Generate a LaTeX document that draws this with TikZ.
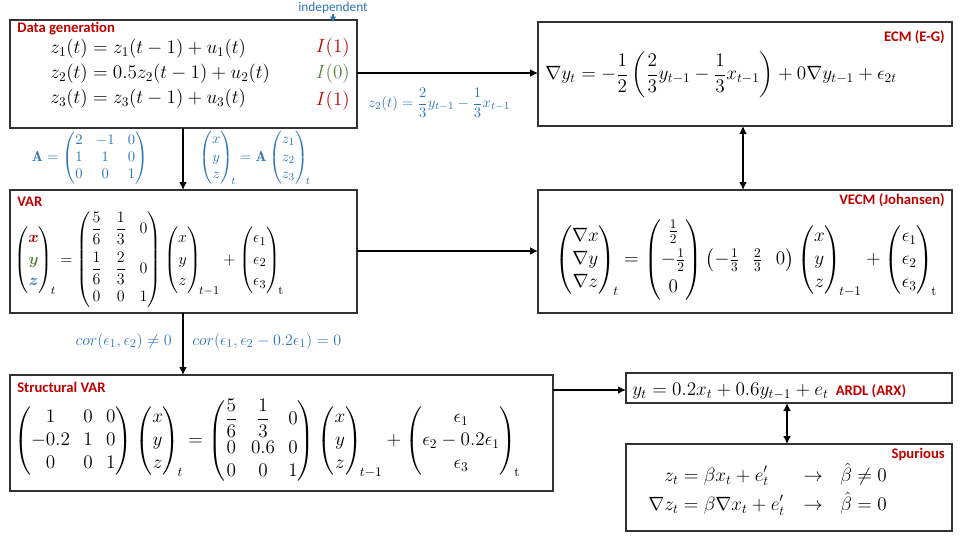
\documentclass[tikz,border=0pt]{standalone}
\usepackage{amsmath}
\usepackage{fontspec}
\newfontfamily\lab{Carlito}
\usetikzlibrary{arrows.meta}
\definecolor{rd}{HTML}{C00000}
\definecolor{bl}{HTML}{2E75B6}
\definecolor{gr}{HTML}{548235}
\begin{document}
\begin{tikzpicture}[x=0.75pt,y=-0.75pt,
  box/.style={draw=black!80,line width=0.8pt,inner sep=0},
  ttl/.style={font=\lab\bfseries\fontsize{11}{13}\selectfont,text=rd,inner sep=0},
  eq/.style={font=\fontsize{14}{17}\selectfont,inner sep=0},
  beq/.style={font=\fontsize{11}{13}\selectfont,text=bl,inner sep=0},
  arr/.style={line width=1.8pt,-{Latex[length=6pt,width=6pt]}},
  darr/.style={line width=1.8pt,{Latex[length=6pt,width=6pt]}-{Latex[length=6pt,width=6pt]}}]
\useasboundingbox (0,0) rectangle (960,540);
% boxes
\draw[box] (10,20) rectangle (357,128); \coordinate (dgR) at (357,73); \coordinate (dgB) at (183,128);
\draw[box] (538,22) rectangle (952,126); \coordinate (ecmL) at (538,73); \coordinate (ecmB) at (743,126);
\draw[box] (10,190) rectangle (357,313); \coordinate (varT) at (183,190); \coordinate (varR) at (357,251); \coordinate (varB) at (183,313);
\draw[box] (538,190) rectangle (952,313); \coordinate (vecmL) at (538,251); \coordinate (vecmT) at (743,190);
\draw[box] (10,375) rectangle (553,491); \coordinate (svT) at (183,375); \coordinate (svR) at (553,390);
\draw[box] (626,373) rectangle (952,403); \coordinate (arL) at (626,390); \coordinate (arB) at (787,403);
\draw[box] (626,444) rectangle (952,531); \coordinate (spT) at (787,444);
% titles
\node[ttl,anchor=west] (t1) at (17,29) {Data generation};
\node[ttl,anchor=east] (t2) at (945,37) {ECM (E-G)};
\node[ttl,anchor=west] (t3) at (17,202) {VAR};
\node[ttl,anchor=east] (t4) at (945,200) {VECM (Johansen)};
\node[ttl,anchor=west] (t5) at (17,387) {Structural VAR};
\node[ttl,anchor=east] (t6) at (945,454) {Spurious};
\node[font=\lab\fontsize{10}{12}\selectfont,text=bl,inner sep=0] (ind) at (333,8) {independent};
\coordinate (indS) at (333,14);
\coordinate (indE) at (333,22);
\draw[bl,line width=1.5pt,-{Latex[length=4pt,width=5pt]}] (indS) -- (indE);
% data generation
\node[eq,anchor=west] (dg) at (50,74) {$\begin{aligned}
z_1(t)&=z_1(t-1)+u_1(t)\\[-1pt]
z_2(t)&=0.5z_2(t-1)+u_2(t)\\[-1pt]
z_3(t)&=z_3(t-1)+u_3(t)\end{aligned}$};
\node[eq,anchor=east] (i1) at (350,48) {$\color{rd}I(1)$};
\node[eq,anchor=east] (i2) at (350,74) {$\color{gr}I(0)$};
\node[eq,anchor=east] (i3) at (350,101) {$\color{rd}I(1)$};
% ECM
\node[eq,anchor=west] (ecm) at (545,75) {$\nabla y_t=-\dfrac12\left(\dfrac23 y_{t-1}-\dfrac13 x_{t-1}\right)+0\nabla y_{t-1}+\epsilon_{2t}$};
\node[beq,anchor=west] (z2) at (368,103) {$z_2(t)=\dfrac23 y_{t-1}-\dfrac13 x_{t-1}$};
% A
\node[beq] (A) at (90,158) {$\mathbf{A}=\begin{pmatrix}2&-1&0\\1&1&0\\0&0&1\end{pmatrix}$};
\node[beq] (xyz) at (255,158) {$\begin{pmatrix}x\\y\\z\end{pmatrix}_{\!t}=\mathbf{A}\begin{pmatrix}z_1\\z_2\\z_3\end{pmatrix}_{\!t}$};
% VAR
\node[eq,anchor=west,font=\fontsize{13}{16}\selectfont] (var) at (14,260) {$\begin{pmatrix}\color{rd}\boldsymbol{x}\\\color{gr}\boldsymbol{y}\\\color{bl}\boldsymbol{z}\end{pmatrix}_{\!t}=\begin{pmatrix}\dfrac56&\dfrac13&0\\[9pt]\dfrac16&\dfrac23&0\\[5pt]0&0&1\end{pmatrix}\begin{pmatrix}x\\y\\z\end{pmatrix}_{\!t-1}+\begin{pmatrix}\epsilon_1\\\epsilon_2\\\epsilon_3\end{pmatrix}_{\!\mathrm t}$};
% VECM
\node[eq,anchor=west] (vecm) at (555,260) {$\begin{pmatrix}\nabla x\\\nabla y\\\nabla z\end{pmatrix}_{\!t}=\begin{pmatrix}\tfrac12\\[4pt]-\tfrac12\\[4pt]0\end{pmatrix}\begin{pmatrix}-\tfrac13&\tfrac23&0\end{pmatrix}\begin{pmatrix}x\\y\\z\end{pmatrix}_{\!t-1}+\begin{pmatrix}\epsilon_1\\\epsilon_2\\\epsilon_3\end{pmatrix}_{\!\mathrm t}$};
% cor labels
\node[beq,anchor=east,font=\fontsize{13}{15}\selectfont] (c1) at (172,341) {$cor(\epsilon_1,\epsilon_2)\neq0$};
\node[beq,anchor=west,font=\fontsize{13}{15}\selectfont] (c2) at (192,341) {$cor(\epsilon_1,\epsilon_2-0.2\epsilon_1)=0$};
% SVAR
\node[eq,anchor=west] (sv) at (14,441) {$\begin{pmatrix}1&0&0\\-0.2&1&0\\0&0&1\end{pmatrix}\begin{pmatrix}x\\y\\z\end{pmatrix}_{\!t}=\begin{pmatrix}\dfrac56&\dfrac13&0\\[2pt]0&0.6&0\\0&0&1\end{pmatrix}\begin{pmatrix}x\\y\\z\end{pmatrix}_{\!t-1}+\begin{pmatrix}\epsilon_1\\\epsilon_2-0.2\epsilon_1\\\epsilon_3\end{pmatrix}_{\!\mathrm t}$};
% ARDL
\node[eq,anchor=west] (ar) at (632,391) {$y_t=0.2x_t+0.6y_{t-1}+e_t$};
\node[ttl,anchor=west] (t7) at ([xshift=5pt]ar.east) {ARDL (ARX)};
% spurious
\node[eq,anchor=west] (sp) at (648,490) {$\begin{aligned}z_t&=\beta x_t+e'_t &&\rightarrow\ \ \hat\beta\neq0\\[-1pt]\nabla z_t&=\beta\nabla x_t+e'_t&&\rightarrow\ \ \hat\beta=0\end{aligned}$};
% arrows
\draw[arr] (dgR) -- (ecmL);
\draw[arr] (dgB) -- (varT);
\draw[arr] (varR) -- (vecmL);
\draw[arr] (varB) -- (svT);
\draw[arr] (svR) -- (arL);
\draw[darr] (ecmB) -- (vecmT);
\draw[darr] (arB) -- (spT);
\end{tikzpicture}
\end{document}
